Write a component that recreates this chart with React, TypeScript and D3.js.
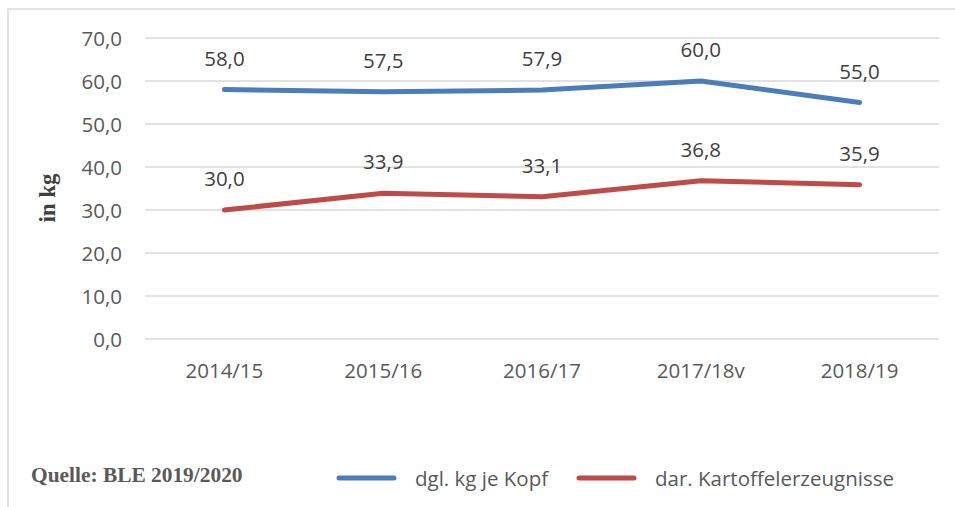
import React from "react";
import * as d3 from "d3";

const categories = ["2014/15", "2015/16", "2016/17", "2017/18v", "2018/19"];
const seriesNames = ["dgl. kg je Kopf", "dar. Kartoffelerzeugnisse"];
const totalValues = [58.0, 57.5, 57.9, 60.0, 55.0];
const potatoProductValues = [30.0, 33.9, 33.1, 36.8, 35.9];
const yTicks = [0, 10, 20, 30, 40, 50, 60, 70];
const colors = ["#4A7EBB", "#BE4B48"];

const W = 955;
const H = 507;
const left = 145;
const right = 939;
const top = 38;
const bottom = 339;

const fmt = (v: number) => v.toFixed(1).replace(".", ",");

export default function App() {
  const x = d3.scaleBand<string>().domain(categories).range([left, right]);
  const y = d3.scaleLinear().domain([0, 70]).range([bottom, top]);
  const cx = (c: string) => (x(c) ?? 0) + x.bandwidth() / 2;
  const line = d3
    .line<number>()
    .x((_, i) => cx(categories[i]))
    .y((v) => y(v));
  const series = [totalValues, potatoProductValues];
  const font = "Open Sans, Liberation Sans, Arial, sans-serif";
  const serif = "Liberation Serif, Times New Roman, serif";

  return (
    <svg
      width={W}
      height={H}
      style={{ position: "absolute", left: 0, top: 0, background: "#fff" }}
    >
      <rect x={8} y={9} width={W} height={H} fill="#fff" stroke="#D9D9D9" strokeWidth={1.5} />
      {yTicks.map((t) => (
        <g key={t}>
          <line x1={left} x2={right} y1={y(t)} y2={y(t)} stroke="#D9D9D9" strokeWidth={1.5} />
          <text
            x={122}
            y={y(t) + 7.5}
            textAnchor="end"
            fontFamily={font}
            fontSize={20.5}
            fill="#595959"
          >
            {fmt(t)}
          </text>
        </g>
      ))}
      {categories.map((c) => (
        <text
          key={c}
          x={cx(c)}
          y={378}
          textAnchor="middle"
          fontFamily={font}
          fontSize={20.5}
          fill="#595959"
        >
          {c}
        </text>
      ))}
      <text
        transform={`translate(55,198) rotate(-90)`}
        textAnchor="middle"
        fontFamily={serif}
        fontWeight="bold"
        fontSize={23}
        fill="#404040"
      >
        in kg
      </text>
      {series.map((vals, si) => (
        <g key={si}>
          <path
            d={line(vals) ?? ""}
            fill="none"
            stroke={colors[si]}
            strokeWidth={5}
            strokeLinecap="round"
            strokeLinejoin="round"
          />
          {vals.map((v, i) => (
            <text
              key={i}
              x={cx(categories[i])}
              y={y(v) - 24}
              textAnchor="middle"
              fontFamily={font}
              fontSize={20.5}
              fill="#404040"
            >
              {fmt(v)}
            </text>
          ))}
        </g>
      ))}
      <text
        x={31}
        y={482}
        fontFamily={serif}
        fontWeight="bold"
        fontSize={21.4}
        fill="#595959"
      >
        Quelle: BLE 2019/2020
      </text>
      {seriesNames.map((n, i) => {
        const lx = [339, 579][i];
        const tx = [415, 655][i];
        return (
          <g key={n}>
            <line
              x1={lx}
              x2={lx + 55}
              y1={478}
              y2={478}
              stroke={colors[i]}
              strokeWidth={5}
              strokeLinecap="round"
            />
            <text x={tx} y={486} fontFamily={font} fontSize={20.5} fill="#595959">
              {n}
            </text>
          </g>
        );
      })}
    </svg>
  );
}
